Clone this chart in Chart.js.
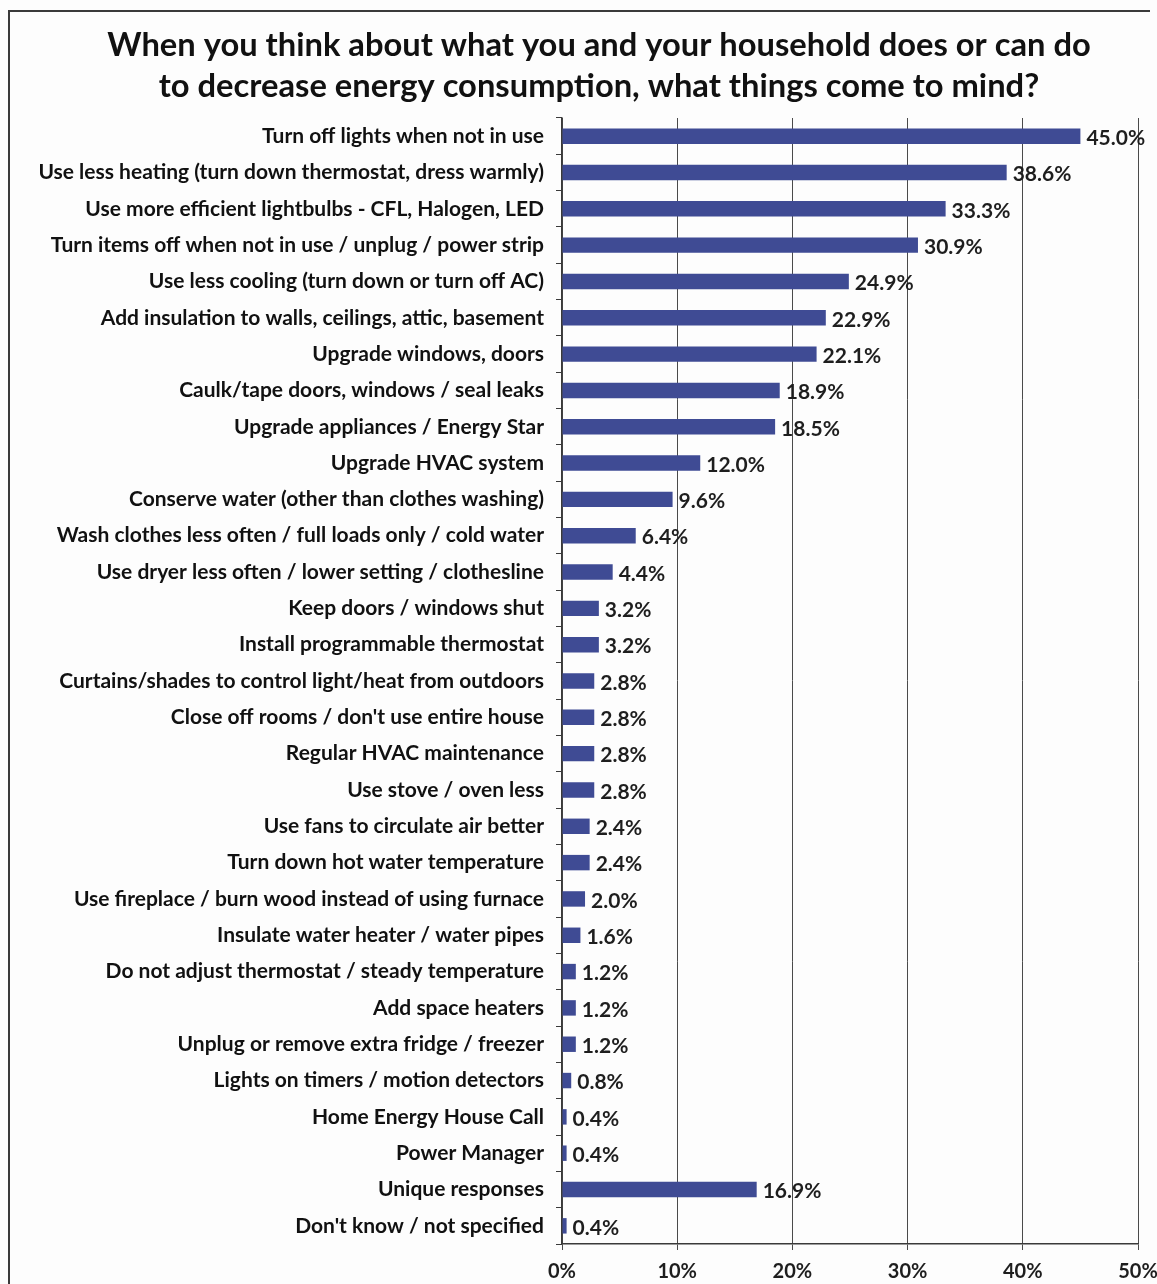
<!DOCTYPE html>
<html>
<head>
<meta charset="utf-8">
<script src="https://cdn.jsdelivr.net/npm/chart.js@4.4.0/dist/chart.umd.min.js"></script>
<style>
  html, body { margin: 0; padding: 0; background: #fdfdfd; }
  #wrap { position: relative; width: 1157px; height: 1284px; }
</style>
</head>
<body>
<div id="wrap"><canvas id="energyChart" width="1157" height="1284"></canvas></div>
<script>
// question title (two lines)
const titleLines = [
    'When you think about what you and your household does or can do',
    'to decrease energy consumption, what things come to mind?'
];

const categories = [
    'Turn off lights when not in use',
    'Use less heating (turn down thermostat, dress warmly)',
    'Use more efficient lightbulbs - CFL, Halogen, LED',
    'Turn items off when not in use / unplug / power strip',
    'Use less cooling (turn down or turn off AC)',
    'Add insulation to walls, ceilings, attic, basement',
    'Upgrade windows, doors',
    'Caulk/tape doors, windows / seal leaks',
    'Upgrade appliances / Energy Star',
    'Upgrade HVAC system',
    'Conserve water (other than clothes washing)',
    'Wash clothes less often / full loads only / cold water',
    'Use dryer less often / lower setting / clothesline',
    'Keep doors / windows shut',
    'Install programmable thermostat',
    'Curtains/shades to control light/heat from outdoors',
    "Close off rooms / don't use entire house",
    'Regular HVAC maintenance',
    'Use stove / oven less',
    'Use fans to circulate air better',
    'Turn down hot water temperature',
    'Use fireplace / burn wood instead of using furnace',
    'Insulate water heater / water pipes',
    'Do not adjust thermostat / steady temperature',
    'Add space heaters',
    'Unplug or remove extra fridge / freezer',
    'Lights on timers / motion detectors',
    'Home Energy House Call',
    'Power Manager',
    'Unique responses',
    "Don't know / not specified"
];

const percentages = [
    45.0, 38.6, 33.3, 30.9, 24.9, 22.9, 22.1, 18.9, 18.5, 12.0,
    9.6, 6.4, 4.4, 3.2, 3.2, 2.8, 2.8, 2.8, 2.8, 2.4,
    2.4, 2.0, 1.6, 1.2, 1.2, 1.2, 0.8, 0.4, 0.4, 16.9, 0.4
];

const xTicks = [0, 10, 20, 30, 40, 50];

const FONT = 'Lato, "Open Sans", sans-serif';

// value labels at the end of each bar
const valueLabels = {
    id: 'valueLabels',
    afterDatasetsDraw(chart) {
        const ctx = chart.ctx;
        const meta = chart.getDatasetMeta(0);
        ctx.save();
        ctx.font = 'bold 21px ' + FONT;
        ctx.fillStyle = '#1e1e1e';
        ctx.textBaseline = 'middle';
        ctx.textAlign = 'left';
        meta.data.forEach((bar, i) => {
            ctx.fillText(percentages[i].toFixed(1) + '%', bar.x + 6, bar.y + 2);
        });
        ctx.restore();
    }
};

// frame (top and left edges are inside the picture) and the question on top
const frame = {
    id: 'frame',
    beforeDraw(chart) {
        const ctx = chart.ctx;
        ctx.save();
        ctx.fillStyle = '#fdfdfd';
        ctx.fillRect(0, 0, chart.width, chart.height);
        ctx.strokeStyle = '#3a3a3a';
        ctx.lineWidth = 2;
        ctx.beginPath();
        ctx.moveTo(9, chart.height);
        ctx.lineTo(9, 11);
        ctx.lineTo(1150, 11);
        ctx.stroke();
        ctx.font = 'bold 32.7px ' + FONT;
        ctx.fillStyle = '#111';
        ctx.textAlign = 'center';
        ctx.textBaseline = 'middle';
        titleLines.forEach((line, i) => ctx.fillText(line, 599, 45 + i * 41));
        ctx.restore();
    }
};

const ctx = document.getElementById('energyChart').getContext('2d');
new Chart(ctx, {
    type: 'bar',
    data: {
        labels: categories,
        datasets: [{
            data: percentages,
            backgroundColor: '#3f4b94',
            barPercentage: 0.85,
            categoryPercentage: 0.5
        }]
    },
    plugins: [frame, valueLabels],
    options: {
        indexAxis: 'y',
        responsive: false,
        animation: false,
        layout: { padding: { left: 0, right: 0, top: 118, bottom: 0 } },
        plugins: {
            legend: { display: false },
            tooltip: { enabled: false }
        },
        scales: {
            x: {
                min: 0,
                max: 50,
                afterBuildTicks: scale => {
                    scale.ticks = xTicks.map(v => ({ value: v }));
                },
                afterFit: scale => {
                    scale.height = 40;
                    scale.paddingLeft = 0;
                    scale.paddingRight = 19;
                },
                grid: {
                    color: '#4a4a4a',
                    lineWidth: 1,
                    tickLength: 6
                },
                border: { color: '#3a3a3a', width: 1.5 },
                ticks: {
                    color: '#1e1e1e',
                    font: { family: FONT, size: 20, weight: 'bold' },
                    padding: 10,
                    callback: v => v + '%'
                }
            },
            y: {
                afterFit: scale => { scale.width = 562; },
                grid: {
                    drawOnChartArea: false,
                    color: '#3a3a3a',
                    tickLength: 6,
                    offset: true
                },
                border: { color: '#3a3a3a', width: 1.5 },
                ticks: {
                    color: '#111',
                    font: { family: FONT, size: 21, weight: 'bold' },
                    padding: 12,
                    autoSkip: false
                }
            }
        }
    }
});
</script>
</body>
</html>
